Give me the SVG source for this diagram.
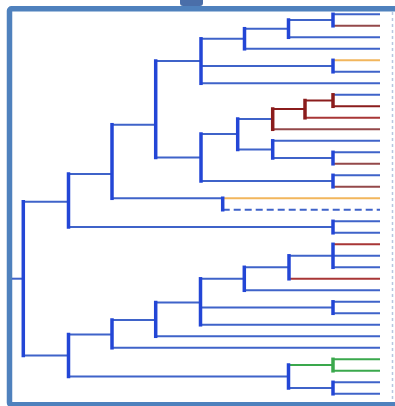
<svg xmlns="http://www.w3.org/2000/svg" width="395" height="406" viewBox="0 0 395 406">
<style>
.h{stroke:#3f63c9;stroke-width:2;fill:none}
.v{stroke:#2346d6;stroke-width:3.5;fill:none;stroke-linecap:square}
.dr{stroke:#8b1c1c}
.rd{stroke:#a83636}
.br{stroke:#94484a}
.yl{stroke:#f2b65c}
.gn{stroke:#3aa84c}
.ds{stroke-dasharray:7 4}
</style>
<rect x="0" y="0" width="395" height="406" fill="#ffffff"/>
<rect x="180" y="-6" width="23" height="12" rx="3" fill="#4a6ea9"/>
<rect x="9.5" y="8.8" width="392" height="396" rx="2" fill="none" stroke="#4f81bd" stroke-width="5.5"/>
<line x1="392.5" y1="12" x2="392.5" y2="400" stroke="#b8c6e0" stroke-width="1.5" stroke-dasharray="3 3"/>
<g id="connectors">
<line class="h" x1="333" y1="14.3" x2="380" y2="14.3"/>
<line class="h br" x1="333" y1="25.8" x2="380" y2="25.8"/>
<line class="h" x1="288.5" y1="37.3" x2="380" y2="37.3"/>
<line class="h" x1="244.5" y1="48.8" x2="380" y2="48.8"/>
<line class="h yl" x1="333" y1="60.3" x2="380" y2="60.3"/>
<line class="h" x1="333" y1="71.8" x2="380" y2="71.8"/>
<line class="h" x1="201" y1="83.3" x2="380" y2="83.3"/>
<line class="h" x1="333" y1="94.8" x2="380" y2="94.8"/>
<line class="h dr" x1="333" y1="106.3" x2="380" y2="106.3"/>
<line class="h rd" x1="305" y1="117.8" x2="380" y2="117.8"/>
<line class="h br" x1="272.7" y1="129.3" x2="380" y2="129.3"/>
<line class="h" x1="272.7" y1="140.8" x2="380" y2="140.8"/>
<line class="h" x1="333" y1="152.3" x2="380" y2="152.3"/>
<line class="h br" x1="333" y1="163.8" x2="380" y2="163.8"/>
<line class="h" x1="333" y1="175.3" x2="380" y2="175.3"/>
<line class="h br" x1="333" y1="186.8" x2="380" y2="186.8"/>
<line class="h yl" x1="222.7" y1="198.3" x2="380" y2="198.3"/>
<line class="h ds" x1="222.7" y1="209.8" x2="380" y2="209.8"/>
<line class="h" x1="333" y1="221.3" x2="380" y2="221.3"/>
<line class="h" x1="333" y1="232.8" x2="380" y2="232.8"/>
<line class="h rd" x1="333" y1="244.3" x2="380" y2="244.3"/>
<line class="h" x1="289" y1="255.8" x2="380" y2="255.8"/>
<line class="h" x1="333" y1="267.3" x2="380" y2="267.3"/>
<line class="h rd" x1="289" y1="278.8" x2="380" y2="278.8"/>
<line class="h" x1="244.3" y1="290.3" x2="380" y2="290.3"/>
<line class="h" x1="333" y1="301.8" x2="380" y2="301.8"/>
<line class="h" x1="333" y1="313.3" x2="380" y2="313.3"/>
<line class="h" x1="200.5" y1="324.8" x2="380" y2="324.8"/>
<line class="h" x1="155.7" y1="336.3" x2="380" y2="336.3"/>
<line class="h" x1="112" y1="347.8" x2="380" y2="347.8"/>
<line class="h gn" x1="333" y1="359.3" x2="380" y2="359.3"/>
<line class="h gn" x1="333" y1="370.8" x2="380" y2="370.8"/>
<line class="h" x1="333" y1="382.3" x2="380" y2="382.3"/>
<line class="h" x1="333" y1="393.8" x2="380" y2="393.8"/>
<line class="h" x1="288.5" y1="20" x2="333" y2="20"/>
<line class="h" x1="244.5" y1="28.7" x2="288.5" y2="28.7"/>
<line class="h" x1="201" y1="38.8" x2="244.5" y2="38.8"/>
<line class="h" x1="201" y1="66" x2="333" y2="66"/>
<line class="h" x1="155.7" y1="61" x2="201" y2="61"/>
<line class="h dr" x1="305" y1="100.5" x2="333" y2="100.5"/>
<line class="h dr" x1="272.7" y1="109" x2="305" y2="109"/>
<line class="h" x1="237.7" y1="119" x2="272.7" y2="119"/>
<line class="h" x1="272.7" y1="158" x2="333" y2="158"/>
<line class="h" x1="237.7" y1="149.5" x2="272.7" y2="149.5"/>
<line class="h" x1="201" y1="134" x2="237.7" y2="134"/>
<line class="h" x1="201" y1="181" x2="333" y2="181"/>
<line class="h" x1="155.7" y1="157.5" x2="201" y2="157.5"/>
<line class="h" x1="112" y1="124.7" x2="155.7" y2="124.7"/>
<line class="h" x1="112" y1="198.3" x2="222.7" y2="198.3"/>
<line class="h" x1="68.5" y1="174" x2="112" y2="174"/>
<line class="h" x1="68.5" y1="227" x2="333" y2="227"/>
<line class="h" x1="23.3" y1="201.7" x2="68.5" y2="201.7"/>
<line class="h" x1="12" y1="278.7" x2="23.3" y2="278.7"/>
<line class="h" x1="244.3" y1="267.3" x2="289" y2="267.3"/>
<line class="h" x1="200.5" y1="278.8" x2="244.3" y2="278.8"/>
<line class="h" x1="200.5" y1="307.5" x2="333" y2="307.5"/>
<line class="h" x1="155.7" y1="302.5" x2="200.5" y2="302.5"/>
<line class="h" x1="112" y1="320" x2="155.7" y2="320"/>
<line class="h" x1="68.5" y1="334.5" x2="112" y2="334.5"/>
<line class="h gn" x1="288.5" y1="365" x2="333" y2="365"/>
<line class="h" x1="288.5" y1="388" x2="333" y2="388"/>
<line class="h" x1="68.5" y1="376.5" x2="288.5" y2="376.5"/>
<line class="h" x1="23.3" y1="355.5" x2="68.5" y2="355.5"/>
</g>
<g id="node-A"><line class="v" x1="333" y1="14.3" x2="333" y2="25.8"/></g>
<g id="node-B"><line class="v" x1="288.5" y1="20" x2="288.5" y2="37.3"/></g>
<g id="node-C"><line class="v" x1="244.5" y1="28.7" x2="244.5" y2="48.8"/></g>
<g id="node-E"><line class="v" x1="333" y1="60.3" x2="333" y2="71.8"/></g>
<g id="node-D"><line class="v" x1="201" y1="38.8" x2="201" y2="83.3"/></g>
<g id="node-F"><line class="v dr" x1="333" y1="94.8" x2="333" y2="106.3"/></g>
<g id="node-G"><line class="v dr" x1="305" y1="100.5" x2="305" y2="117.8"/></g>
<g id="node-H"><line class="v dr" x1="272.7" y1="109" x2="272.7" y2="129.3"/></g>
<g id="node-J"><line class="v" x1="333" y1="152.3" x2="333" y2="163.8"/></g>
<g id="node-I"><line class="v" x1="272.7" y1="140.8" x2="272.7" y2="158"/></g>
<g id="node-K"><line class="v" x1="237.7" y1="119" x2="237.7" y2="149.5"/></g>
<g id="node-L"><line class="v" x1="333" y1="175.3" x2="333" y2="186.8"/></g>
<g id="node-M"><line class="v" x1="201" y1="134" x2="201" y2="181"/></g>
<g id="node-N"><line class="v" x1="155.7" y1="61" x2="155.7" y2="157.5"/></g>
<g id="node-P"><line class="v" x1="222.7" y1="198.3" x2="222.7" y2="209.8" stroke-dasharray="3 2" stroke-linecap="butt"/></g>
<g id="node-O"><line class="v" x1="112" y1="124.7" x2="112" y2="198.3"/></g>
<g id="node-S"><line class="v" x1="333" y1="221.3" x2="333" y2="232.8"/></g>
<g id="node-Q"><line class="v" x1="68.5" y1="174" x2="68.5" y2="227"/></g>
<g id="node-R"><line class="v" x1="23.3" y1="201.7" x2="23.3" y2="355.5"/></g>
<g id="node-AD"><line class="v" x1="333" y1="244.3" x2="333" y2="267.3"/></g>
<g id="node-AC"><line class="v" x1="289" y1="255.8" x2="289" y2="278.8"/></g>
<g id="node-AA"><line class="v" x1="244.3" y1="267.3" x2="244.3" y2="290.3"/></g>
<g id="node-AB"><line class="v" x1="333" y1="301.8" x2="333" y2="313.3"/></g>
<g id="node-Z"><line class="v" x1="200.5" y1="278.8" x2="200.5" y2="324.8"/></g>
<g id="node-Y"><line class="v" x1="155.7" y1="302.5" x2="155.7" y2="336.3"/></g>
<g id="node-U"><line class="v" x1="112" y1="320" x2="112" y2="347.8"/></g>
<g id="node-W"><line class="v gn" x1="333" y1="359.3" x2="333" y2="370.8"/></g>
<g id="node-X"><line class="v" x1="333" y1="382.3" x2="333" y2="393.8"/></g>
<g id="node-V"><line class="v" x1="288.5" y1="365" x2="288.5" y2="388"/></g>
<g id="node-T"><line class="v" x1="68.5" y1="334.5" x2="68.5" y2="376.5"/></g>
</svg>
